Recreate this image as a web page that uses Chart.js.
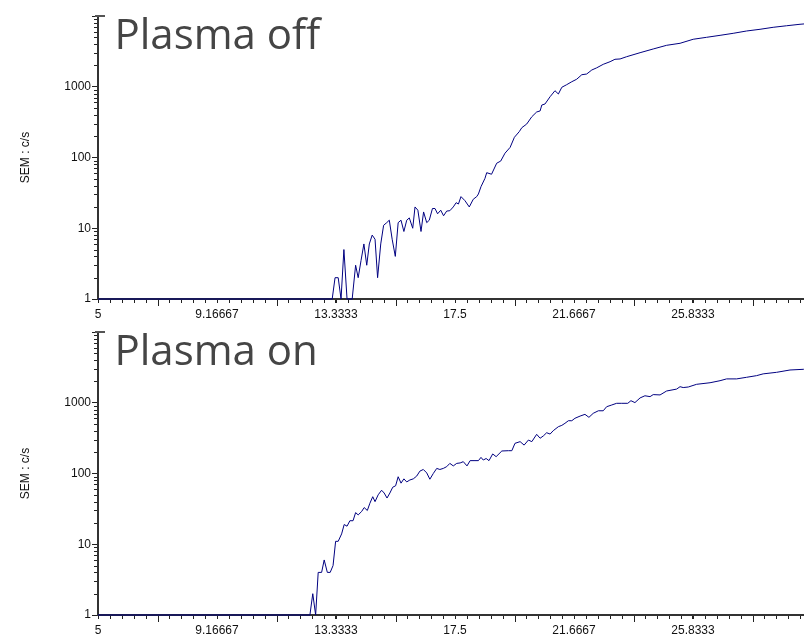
<!DOCTYPE html>
<html>
<head>
<meta charset="utf-8">
<script src="https://cdn.jsdelivr.net/npm/chart.js@4/dist/chart.umd.min.js"></script>
<style>
  html, body { margin: 0; padding: 0; background: #fff; overflow: hidden; }
  #wrap { position: relative; width: 804px; height: 634px; overflow: hidden; }
  canvas { position: absolute; left: 0; }
  #offChart { top: 0; }
  #onChart { top: 316px; }
</style>
</head>
<body>
<div id="wrap">
  <canvas id="offChart" width="830" height="318"></canvas>
  <canvas id="onChart" width="830" height="318"></canvas>
</div>
<script>
// x axis ticks (labelled) and y axis decades
const xTickValues = [5, 9.16667, 13.3333, 17.5, 21.6667, 25.8333, 30];
const yTickValues = [1, 10, 100, 1000, 10000];
const yTickLabels = ['1', '10', '100', '1000', ''];

// "Plasma off" trace
const offX = [
  5, 7, 9, 11, 13.2, 13.3, 13.41, 13.51, 13.61, 13.72,
  13.9, 14.02, 14.11, 14.21, 14.31, 14.41, 14.5, 14.6, 14.7, 14.79,
  14.9, 15, 15.11, 15.2, 15.3, 15.41, 15.51, 15.61, 15.71, 15.81,
  15.9, 16.02, 16.1, 16.2, 16.31, 16.4, 16.51, 16.6, 16.71, 16.8,
  16.89, 17, 17.1, 17.21, 17.32, 17.44, 17.54, 17.62, 17.71, 17.85,
  18, 18.14, 18.26, 18.32, 18.41, 18.55, 18.61, 18.78, 18.96, 19.1,
  19.25, 19.43, 19.58, 19.75, 19.84, 20.01, 20.19, 20.36, 20.48, 20.54,
  20.65, 20.83, 21, 21.12, 21.24, 21.41, 21.59, 21.76, 21.94, 22.11,
  22.29, 22.46, 22.69, 22.93, 23.1, 23.28, 23.51, 23.98, 24.44, 24.91,
  25.38, 25.84, 26.31, 26.78, 27.24, 27.71, 28.18, 28.64, 29.11, 29.58,
  30
];
const offY = [
  1, 1, 1, 1, 1, 2, 2, 1, 5, 1,
  1, 3, 2, 3.5, 6, 3, 6, 8, 7, 2,
  6, 11, 12, 13, 7, 4, 12, 13, 9, 13,
  14, 10, 20, 18, 9, 17, 12, 13, 19, 19,
  16, 18, 15, 17.5, 17.7, 20, 23, 22, 28, 24.5,
  20, 25.7, 28, 30.5, 38.7, 50.8, 61, 58, 83, 89,
  115, 139, 193, 232, 264, 297, 377, 440, 455, 552,
  570, 723, 879, 790, 983, 1069, 1178, 1276, 1480, 1513,
  1725, 1850, 2075, 2260, 2444, 2470, 2660, 3030, 3419, 3853,
  4114, 4690, 5000, 5330, 5690, 6140, 6490, 6920, 7280, 7640,
  7900
];

// "Plasma on" trace
const onX = [
  5, 7, 9, 11, 12.42, 12.52, 12.62, 12.71, 12.83, 12.92,
  13.03, 13.13, 13.23, 13.32, 13.41, 13.53, 13.62, 13.72, 13.82, 13.93,
  14.02, 14.11, 14.23, 14.32, 14.43, 14.52, 14.62, 14.7, 14.81, 14.93,
  15.02, 15.12, 15.22, 15.32, 15.42, 15.51, 15.61, 15.71, 15.81, 15.92,
  16.04, 16.16, 16.27, 16.39, 16.51, 16.62, 16.74, 16.86, 16.97, 17.09,
  17.21, 17.32, 17.44, 17.56, 17.68, 17.79, 17.92, 18.03, 18.2, 18.32,
  18.41, 18.49, 18.59, 18.69, 18.82, 18.94, 19.14, 19.37, 19.49, 19.6,
  19.78, 19.92, 20.07, 20.19, 20.36, 20.48, 20.59, 20.71, 20.83, 20.94,
  21.12, 21.24, 21.35, 21.47, 21.59, 21.7, 21.88, 22.05, 22.19, 22.34,
  22.52, 22.69, 22.81, 22.99, 23.16, 23.34, 23.55, 23.66, 23.8, 23.98,
  24.15, 24.33, 24.44, 24.68, 24.91, 25.26, 25.38, 25.49, 25.67, 25.96,
  26.43, 26.78, 27.01, 27.36, 27.71, 28.06, 28.29, 28.76, 29.23, 29.7,
  30
];
const onY = [
  1, 1, 1, 1, 1, 2, 1, 4, 4, 6,
  4, 4, 5, 11, 11, 14, 19, 18, 21.5, 21.5,
  28, 26, 29, 33, 30, 38, 47, 40, 50, 58,
  53, 45, 53, 64, 67, 90, 73, 84, 76, 81,
  84, 92, 108, 114, 102, 83, 100, 118, 114, 118,
  125, 139, 128, 139, 141, 147, 128, 152, 152, 152,
  169, 155, 163, 152, 189, 173, 208, 210, 210, 267,
  282, 252, 297, 282, 358, 315, 339, 377, 361, 403,
  459, 479, 512, 557, 557, 603, 648, 686, 622, 709,
  770, 770, 879, 930, 982, 982, 982, 1069, 1005, 1170,
  1255, 1220, 1304, 1290, 1466, 1560, 1687, 1640, 1670, 1823,
  1918, 2050, 2173, 2173, 2290, 2416, 2560, 2692, 2904, 2970,
  3000
];

const axisFont = { family: '"Liberation Sans", Arial, sans-serif', size: 12 };

// minor ticks on both axes + the big panel caption
const panelDecor = {
  id: 'panelDecor',
  afterDraw(chart, args, opts) {
    const { ctx, chartArea: a, scales: { x, y } } = chart;
    ctx.save();
    ctx.strokeStyle = '#222';
    ctx.lineWidth = 1;
    ctx.beginPath();
    for (let i = 0; i <= 60; i++) {
      const px = Math.round(x.getPixelForValue(5 + i * 25 / 60)) + 0.5;
      const len = i % 10 === 5 ? 6 : 3;
      ctx.moveTo(px, a.bottom + 1);
      ctx.lineTo(px, a.bottom + 1 + len);
    }
    for (let d = 1; d < 10000; d *= 10) {
      for (let m = 2; m <= 9; m++) {
        const py = Math.round(y.getPixelForValue(d * m)) + 0.5;
        ctx.moveTo(a.left - 4, py);
        ctx.lineTo(a.left - 1, py);
      }
    }
    ctx.stroke();
    // cap at top of y axis
    ctx.strokeStyle = '#555';
    ctx.lineWidth = 2;
    ctx.beginPath();
    ctx.moveTo(a.left - 3, a.top);
    ctx.lineTo(a.left + 7, a.top);
    ctx.stroke();

    ctx.fillStyle = '#454545';
    ctx.font = '42px "Open Sans"';
    ctx.textBaseline = 'alphabetic';
    ctx.fillText(opts.title, 114.5, a.top + 32.5);
    ctx.restore();
  }
};

function makePanel(id, xs, ys, title) {
  const points = xs.map((v, i) => ({ x: v, y: ys[i] }));
  return new Chart(document.getElementById(id), {
    type: 'line',
    data: {
      datasets: [{
        data: points,
        borderColor: '#000080',
        borderWidth: 1,
        pointRadius: 0,
        tension: 0,
        clip: 3
      }]
    },
    options: {
      responsive: false,
      animation: false,
      devicePixelRatio: 1,
      layout: { padding: { top: 16, right: 18, bottom: 0, left: 0 } },
      plugins: {
        legend: { display: false },
        tooltip: { enabled: false },
        panelDecor: { title: title }
      },
      scales: {
        x: {
          type: 'linear',
          min: 5,
          max: 30,
          afterBuildTicks: s => { s.ticks = xTickValues.map(v => ({ value: v })); },
          afterFit: s => { s.height = 19; },
          ticks: {
            autoSkip: false,
            maxRotation: 0,
            padding: 4,
            color: '#111',
            font: axisFont,
            callback: v => String(v)
          },
          grid: { drawOnChartArea: false, tickLength: 4, tickColor: '#222' },
          border: { color: '#333', width: 2 }
        },
        y: {
          type: 'logarithmic',
          min: 1,
          max: 10000,
          afterBuildTicks: s => { s.ticks = yTickValues.map(v => ({ value: v })); },
          afterFit: s => { s.width = 98; },
          ticks: {
            padding: 1,
            color: '#111',
            font: axisFont,
            callback: (v, i) => yTickLabels[i]
          },
          grid: { drawOnChartArea: false, tickLength: 6, tickColor: '#222' },
          border: { color: '#333', width: 2 },
          title: {
            display: true,
            text: 'SEM : c/s',
            color: '#111',
            font: axisFont,
            padding: { top: 18, bottom: 0 }
          }
        }
      }
    },
    plugins: [panelDecor]
  });
}

makePanel('offChart', offX, offY, 'Plasma off');
makePanel('onChart', onX, onY, 'Plasma on');
</script>
</body>
</html>
